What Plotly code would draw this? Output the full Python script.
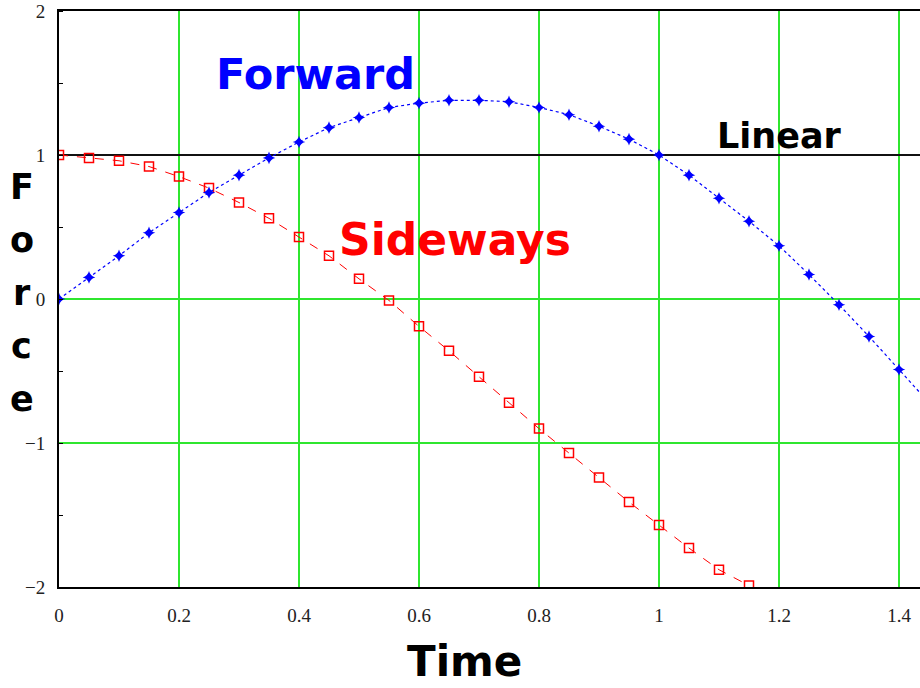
import plotly.graph_objects as go

# ---- data ----
time = [0, 0.05, 0.1, 0.15, 0.2, 0.25, 0.3, 0.35, 0.4, 0.45, 0.5, 0.55, 0.6, 0.65,
        0.7, 0.75, 0.8, 0.85, 0.9, 0.95, 1.0, 1.05, 1.1, 1.15, 1.2, 1.25, 1.3, 1.35,
        1.4, 1.45]
forward = [0, 0.15, 0.30, 0.46, 0.60, 0.74, 0.86, 0.98, 1.09, 1.19, 1.26, 1.33, 1.36,
           1.38, 1.38, 1.37, 1.33, 1.28, 1.20, 1.11, 1.00, 0.86, 0.70, 0.54, 0.37, 0.17,
           -0.04, -0.26, -0.49, -0.72]
side_time = time[:24]
sideways = [1.0, 0.98, 0.96, 0.92, 0.85, 0.77, 0.67, 0.56, 0.43, 0.30, 0.14, -0.01,
            -0.19, -0.36, -0.54, -0.72, -0.90, -1.07, -1.24, -1.41, -1.57, -1.73,
            -1.88, -1.99]
linear_time = [0, 1.5]
linear = [1, 1]
x_ticks = [0, 0.2, 0.4, 0.6, 0.8, 1, 1.2, 1.4]
x_tick_labels = ["0", "0.2", "0.4", "0.6", "0.8", "1", "1.2", "1.4"]
y_ticks = [-2, -1, 0, 1, 2]
y_tick_labels = ["\u22122", "\u22121", "0", "1", "2"]

GREEN = "#2fe62f"
BOLD = "DejaVu Sans"

fig = go.Figure()
fig.add_trace(go.Scatter(x=linear_time, y=linear, mode="lines",
                         line=dict(color="#111111", width=2), showlegend=False))
fig.add_trace(go.Scatter(x=side_time, y=sideways, mode="lines+markers",
                         line=dict(color="red", width=1, dash="dash"),
                         marker=dict(symbol="square-open", size=9, color="red",
                                     line=dict(width=1.5, color="red")),
                         showlegend=False))
fig.add_trace(go.Scatter(x=time, y=forward, mode="lines+markers",
                         line=dict(color="blue", width=1.2, dash="dot"),
                         marker=dict(symbol="star-diamond", size=9, color="blue"),
                         showlegend=False))

fig.update_xaxes(range=[0, 1.435], tickvals=x_ticks, ticktext=x_tick_labels,
                 showgrid=True, gridcolor=GREEN, gridwidth=1.5, zeroline=False,
                 showline=True, linecolor="black", linewidth=2, mirror=True,
                 ticks="", ticklabelstandoff=10, ticklabeloverflow="allow",
                 tickfont=dict(family="Liberation Serif", size=19, color="#222"))
fig.update_yaxes(range=[-2, 2], tickvals=y_ticks, ticktext=y_tick_labels,
                 showgrid=True, gridcolor=GREEN, gridwidth=1.5, zeroline=False,
                 showline=True, linecolor="black", linewidth=2, mirror=False,
                 ticks="", ticklabelstandoff=8, ticklabeloverflow="allow",
                 minor=dict(ticks="inside", dtick=0.5, ticklen=4, tickcolor="black",
                            showgrid=False),
                 tickfont=dict(family="Liberation Serif", size=19, color="#222"))

fig.add_annotation(x=0.427, y=1.5625, text="<b>Forward</b>", showarrow=False,
                   xanchor="center", yanchor="middle",
                   font=dict(family=BOLD, size=43, color="blue"))
fig.add_annotation(x=0.66, y=0.41, text="<b>Sideways</b>", showarrow=False,
                   xanchor="center", yanchor="middle",
                   font=dict(family=BOLD, size=44, color="red"))
fig.add_annotation(x=1.2, y=1.13, text="<b>Linear</b>", showarrow=False,
                   xanchor="center", yanchor="middle",
                   font=dict(family=BOLD, size=35, color="black"))
fig.add_annotation(xref="paper", yref="paper", x=0.4715, y=-0.13, text="<b>Time</b>",
                   showarrow=False, xanchor="center", yanchor="middle",
                   font=dict(family=BOLD, size=42, color="black"))
for i, ch in enumerate("Force"):
    py = 187 + 53 * i
    fig.add_annotation(xref="paper", yref="paper", x=-0.043, y=(587 - py) / 576,
                       text="<b>" + ch + "</b>", showarrow=False,
                       xanchor="center", yanchor="middle",
                       font=dict(family=BOLD, size=35, color="black"))

fig.update_layout(width=920, height=688, hovermode=False,
                  margin=dict(l=59, r=0, t=11, b=101, autoexpand=False),
                  plot_bgcolor="white", paper_bgcolor="white")
fig.write_html("out.html", config={"displayModeBar": False, "staticPlot": True},
               post_script="document.body.style.margin='0px';"
                           "document.body.style.overflow='hidden';")
